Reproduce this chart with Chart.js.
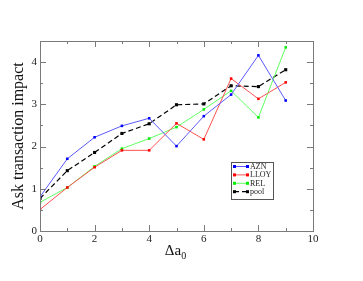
<!DOCTYPE html>
<html>
<head>
<meta charset="utf-8">
<script src="https://cdn.jsdelivr.net/npm/chart.js@4/dist/chart.umd.min.js"></script>
<style>
  html, body { margin: 0; padding: 0; background: #fff; }
  #wrap { width: 363px; height: 281px; }
</style>
</head>
<body>
<div id="wrap"><canvas id="chart" width="363" height="281"></canvas></div>
<script>
// data
const xValues = [0, 1, 2, 3, 4, 5, 6, 7, 8, 9];
const azn  = [0.81, 1.71, 2.22, 2.49, 2.67, 2.01, 2.72, 3.23, 4.16, 3.09];
const lloy = [0.51, 1.03, 1.51, 1.91, 1.91, 2.55, 2.17, 3.61, 3.13, 3.52];
const rel  = [0.68, 1.03, 1.53, 1.95, 2.19, 2.46, 2.88, 3.32, 2.69, 4.35];
const pool = [0.77, 1.43, 1.86, 2.31, 2.54, 2.99, 3.01, 3.44, 3.42, 3.82];
const seriesNames = ['AZN', 'LLOY', 'REL', 'pool'];
const xTickLabels = [0, 2, 4, 6, 8, 10];
const yTickLabels = [0, 1, 2, 3, 4];

const serif = "'Liberation Serif', 'DejaVu Serif', serif";
const frameColor = '#7a7a7a';

function pts(ys) {
  return ys.map((y, i) => ({ x: xValues[i], y: y }));
}

const datasets = [
  { label: seriesNames[0], data: pts(azn),  borderColor: '#5a5aff', backgroundColor: '#0000ff', pointStyle: 'rect', pointRadius: 1.8 },
  { label: seriesNames[1], data: pts(lloy), borderColor: '#ff5050', backgroundColor: '#ff0000', pointStyle: 'rect', pointRadius: 1.8 },
  { label: seriesNames[2], data: pts(rel),  borderColor: '#60ff60', backgroundColor: '#00ee00', pointStyle: 'rect', pointRadius: 1.8 },
  { label: seriesNames[3], data: pts(pool), borderColor: '#000', backgroundColor: '#000', pointStyle: 'rect', pointRadius: 2.2, borderDash: [5, 3], borderWidth: 1.2 }
].map(d => Object.assign({ borderWidth: 1, pointBorderWidth: 0, tension: 0, fill: false }, d));

// frame, inward ticks, legend box and axis titles
const decor = {
  id: 'decor',
  afterDraw(chart) {
    const c = chart.ctx;
    const a = chart.chartArea;
    const xs = chart.scales.x, ys = chart.scales.y;
    c.save();
    c.strokeStyle = frameColor;
    c.lineWidth = 1;
    c.strokeRect(Math.round(a.left) + 0.5, Math.round(a.top) + 0.5, Math.round(a.right - a.left), Math.round(a.bottom - a.top));

    c.beginPath();
    for (let v = 0; v <= 10; v++) {
      const px = Math.round(xs.getPixelForValue(v)) + 0.5;
      const len = v % 2 === 0 ? 6 : 3;
      c.moveTo(px, a.bottom); c.lineTo(px, a.bottom - len);
      c.moveTo(px, a.top); c.lineTo(px, a.top + len);
    }
    for (let v = 0; v <= 4.5; v += 0.5) {
      const py = Math.round(ys.getPixelForValue(v)) + 0.5;
      const len = Number.isInteger(v) ? 6 : 3;
      c.moveTo(a.left, py); c.lineTo(a.left + len, py);
      c.moveTo(a.right, py); c.lineTo(a.right - len, py);
    }
    c.stroke();

    // legend
    const lx = 231.5, ly = 162.5, lw = 42, lh = 37;
    c.fillStyle = '#fff';
    c.fillRect(lx, ly, lw, lh);
    c.strokeStyle = '#555';
    c.strokeRect(lx, ly, lw, lh);
    chart.data.datasets.forEach((ds, i) => {
      const y = 166.5 + i * 8.4;
      c.strokeStyle = ds.borderColor;
      c.lineWidth = ds.borderWidth;
      c.setLineDash(ds.borderDash || []);
      c.beginPath();
      c.moveTo(234, y); c.lineTo(247, y);
      c.stroke();
      c.setLineDash([]);
      c.fillStyle = ds.backgroundColor;
      c.fillRect(233, y - 1.5, 3, 3);
      c.fillRect(246, y - 1.5, 3, 3);
      c.fillStyle = '#222';
      c.font = '8px ' + serif;
      c.textBaseline = 'middle';
      c.textAlign = 'left';
      c.fillText(ds.label, 250, y + 0.5);
    });

    // axis titles
    c.fillStyle = '#111';
    c.font = '15px ' + serif;
    c.textBaseline = 'alphabetic';
    c.textAlign = 'left';
    const main = 'Δa';
    const wMain = c.measureText(main).width;
    c.font = '10px ' + serif;
    const wSub = c.measureText('0').width;
    const x0 = (a.left + a.right) / 2 - (wMain + wSub) / 2 - 1;
    c.font = '15px ' + serif;
    c.fillText(main, x0, 255);
    c.font = '10px ' + serif;
    c.fillText('0', x0 + wMain, 259);

    c.save();
    c.translate(23, (a.top + a.bottom) / 2);
    c.rotate(-Math.PI / 2);
    c.font = '16px ' + serif;
    c.textAlign = 'center';
    c.fillText('Ask transaction impact', 0, 0);
    c.restore();
    c.restore();
  }
};

new Chart(document.getElementById('chart'), {
  type: 'line',
  data: { datasets: datasets },
  options: {
    responsive: false,
    animation: false,
    layout: { padding: { top: 41, right: 50, left: 0, bottom: 0 } },
    plugins: { legend: { display: false }, tooltip: { enabled: false } },
    scales: {
      x: {
        type: 'linear', min: 0, max: 10,
        afterFit: s => { s.height = 50; },
        afterBuildTicks: s => { s.ticks = xTickLabels.map(v => ({ value: v })); },
        grid: { display: false, drawTicks: false },
        border: { display: false },
        ticks: { color: '#222', font: { family: serif, size: 11 }, padding: 2, maxRotation: 0 }
      },
      y: {
        type: 'linear', min: 0, max: 4.5,
        afterFit: s => { s.width = 40; },
        afterBuildTicks: s => { s.ticks = yTickLabels.map(v => ({ value: v })); },
        grid: { display: false, drawTicks: false },
        border: { display: false },
        ticks: { color: '#222', font: { family: serif, size: 11 }, padding: 3 }
      }
    }
  },
  plugins: [decor]
});
</script>
</body>
</html>
